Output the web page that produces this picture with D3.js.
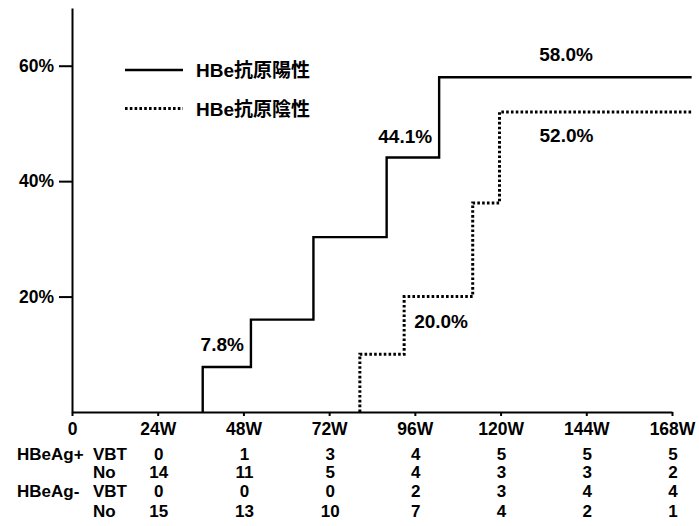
<!DOCTYPE html>
<html>
<head>
<meta charset="utf-8">
<script src="https://cdn.jsdelivr.net/npm/d3@7"></script>
<style>
  html, body { margin: 0; padding: 0; background: #fff; }
  svg { display: block; }
  text { font-family: "Liberation Sans", Arial, "Noto Sans CJK JP", sans-serif; font-weight: bold; fill: #000; }
</style>
</head>
<body>
<svg id="chart" width="699" height="526"></svg>
<script>
// Follow-up weeks shown on the x axis and in the table below it
const weekTicks = [0, 24, 48, 72, 96, 120, 144, 168];
const rateTicks = [20, 40, 60];

// Cumulative rate (%) — HBe antibody positive
const posWeeks = [36.6, 50.1, 67.6, 88.1, 102.8];
const posRates = [7.8, 16.0, 30.3, 44.1, 58.0];

// Cumulative rate (%) — HBe antibody negative
const negWeeks = [80.6, 93.0, 112.2, 119.7];
const negRates = [10.0, 20.0, 36.2, 52.0];

// Last week of follow-up for both curves
const followEnd = 173.5;

// Numbers under each week column (24W … 168W)
const tableWeeks = [24, 48, 72, 96, 120, 144, 168];
const posVBT = [0, 1, 3, 4, 5, 5, 5];
const posNo  = [14, 11, 5, 4, 3, 3, 2];
const negVBT = [0, 0, 0, 2, 3, 4, 4];
const negNo  = [15, 13, 10, 7, 4, 2, 1];

const legendLabels = ["HBe抗原陽性", "HBe抗原陰性"];

const svg = d3.select("#chart");

const x = d3.scaleLinear().domain([0, 168]).range([72, 672]);
const y = d3.scaleLinear().domain([0, 70]).range([412, 8]);

// Axes
const yAxis = svg.append("g")
  .attr("transform", `translate(${x(0)},0)`)
  .call(d3.axisLeft(y).tickValues(rateTicks).tickSize(13).tickSizeOuter(0)
    .tickPadding(5).tickFormat(d => d + "%"));

const xAxis = svg.append("g")
  .attr("transform", `translate(0,${y(0)})`)
  .call(d3.axisBottom(x).tickValues(weekTicks).tickSize(4).tickSizeOuter(0)
    .tickPadding(7).tickFormat(d => d === 0 ? "0" : d + "W"));

[yAxis, xAxis].forEach(g => {
  g.attr("font-family", null).attr("font-size", null);
  g.select(".domain").attr("stroke", "#000").attr("stroke-width", 2);
  g.selectAll(".tick line").attr("stroke", "#000").attr("stroke-width", 2);
  g.selectAll(".tick text").style("font-size", "17.5px");
});

// Step curves
function stepPoints(weeks, rates) {
  const pts = [{ w: weeks[0], r: 0 }];
  weeks.forEach((w, i) => pts.push({ w, r: rates[i] }));
  pts.push({ w: followEnd, r: rates[rates.length - 1] });
  return pts;
}

const line = d3.line()
  .x(d => x(d.w))
  .y(d => y(d.r))
  .curve(d3.curveStepAfter);

svg.append("path")
  .datum(stepPoints(posWeeks, posRates))
  .attr("d", line)
  .attr("fill", "none")
  .attr("stroke", "#000")
  .attr("stroke-width", 2.4);

svg.append("path")
  .datum(stepPoints(negWeeks, negRates))
  .attr("d", line)
  .attr("fill", "none")
  .attr("stroke", "#000")
  .attr("stroke-width", 3)
  .attr("stroke-dasharray", "2.6,2.2");

// Value labels on selected steps
const fmt = v => d3.format(".1f")(v) + "%";
const annotations = [
  { weeks: posWeeks, rates: posRates, i: 0, atNext: true, anchor: "end", dx: -7, dy: -15.5 },
  { weeks: posWeeks, rates: posRates, i: 3, atNext: true, anchor: "end", dx: -7, dy: -14.5 },
  { weeks: posWeeks, rates: posRates, i: 4, atNext: false, anchor: "start", dx: 100, dy: -16 },
  { weeks: negWeeks, rates: negRates, i: 1, atNext: false, anchor: "start", dx: 10, dy: 31 },
  { weeks: negWeeks, rates: negRates, i: 3, atNext: false, anchor: "start", dx: 40, dy: 30.5 }
];

svg.append("g").selectAll("text")
  .data(annotations)
  .join("text")
  .attr("x", a => x(a.atNext ? a.weeks[a.i + 1] : a.weeks[a.i]) + a.dx)
  .attr("y", a => y(a.rates[a.i]) + a.dy)
  .attr("text-anchor", a => a.anchor)
  .style("font-size", "19px")
  .text(a => fmt(a.rates[a.i]));

// Legend
const legend = svg.append("g").attr("transform", "translate(125,70)");
legendLabels.forEach((label, i) => {
  const row = legend.append("g").attr("transform", `translate(0,${i * 38.5})`);
  const seg = row.append("line")
    .attr("x1", 0).attr("x2", 58)
    .attr("y1", 0).attr("y2", 0)
    .attr("stroke", "#000")
    .attr("stroke-width", i === 0 ? 2.6 : 3);
  if (i === 1) seg.attr("stroke-dasharray", "2.6,2.2");
  row.append("text")
    .attr("x", 71).attr("y", 7)
    .style("font-size", "19px")
    .text(label);
});

// Table of counts below the axis
const rows = [
  { group: "HBeAg+", kind: "VBT", values: posVBT, baseline: 460 },
  { group: "",       kind: "No",  values: posNo,  baseline: 478 },
  { group: "HBeAg-", kind: "VBT", values: negVBT, baseline: 497 },
  { group: "",       kind: "No",  values: negNo,  baseline: 516.5 }
];

const table = svg.append("g").style("font-size", "17px");
rows.forEach(r => {
  if (r.group) table.append("text").attr("x", 17).attr("y", r.baseline).text(r.group);
  table.append("text").attr("x", 93).attr("y", r.baseline).text(r.kind);
  r.values.forEach((v, j) => {
    table.append("text")
      .attr("x", x(tableWeeks[j]) + 1)
      .attr("y", r.baseline)
      .attr("text-anchor", "middle")
      .text(v);
  });
});
</script>
</body>
</html>
